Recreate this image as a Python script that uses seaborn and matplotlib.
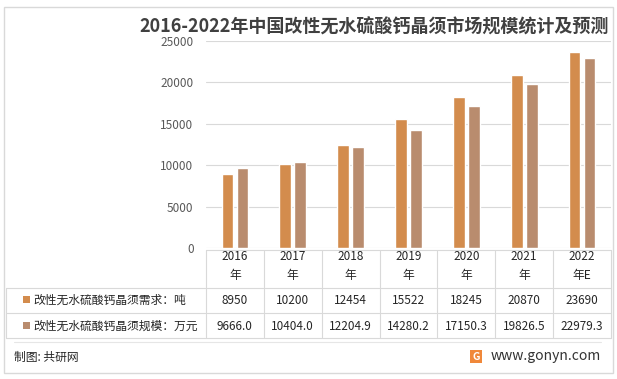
import pandas as pd
import matplotlib.pyplot as plt
import seaborn as sns
from matplotlib.patches import Rectangle
from matplotlib.transforms import blended_transform_factory

# data
years = ["2016", "2017", "2018", "2019", "2020", "2021", "2022"]
year_suffix = ["年", "年", "年", "年", "年", "年", "年E"]
demand = [8950, 10200, 12454, 15522, 18245, 20870, 23690]
scale = [9666.0, 10404.0, 12204.9, 14280.2, 17150.3, 19826.5, 22979.3]
series = ["改性无水硫酸钙晶须需求：吨", "改性无水硫酸钙晶须规模：万元"]
colors = ["#D38C4D", "#B98C6E"]
title = "2016-2022年中国改性无水硫酸钙晶须市场规模统计及预测"

df = pd.DataFrame({
    "year": years * 2,
    "value": demand + scale,
    "series": [series[0]] * len(years) + [series[1]] * len(years),
})

sns.set_theme(style="white")
plt.rcParams['font.family'] = ['Noto Sans CJK SC', 'DejaVu Sans']

W, H = 617, 379
fig = plt.figure(figsize=(W / 100, H / 100), dpi=100)

# background axes in pixel coords for frame, table lines and footer
bg = fig.add_axes([0, 0, 1, 1])
bg.set_xlim(0, W)
bg.set_ylim(H, 0)
bg.axis('off')

ax = fig.add_axes([206 / W, 1 - 248 / H, 405 / W, (248 - 41) / H])
ax.set_facecolor('none')
sns.barplot(data=df, x="year", y="value", hue="series", palette=colors,
            width=0.52, gap=0.22, saturation=1, legend=False, ax=ax)
ax.set_ylim(0, 25000)
ax.set_yticks(range(0, 25001, 5000))
ax.yaxis.grid(True, color="#D9D9D9", lw=0.8)
ax.set_axisbelow(True)
ax.set_xticks([])
ax.set_xlabel("")
ax.set_ylabel("")
sns.despine(ax=ax, left=True, bottom=True)
ax.tick_params(axis='y', length=0, pad=9, labelsize=8.5, labelcolor="#595959")

# frame
bg.add_patch(Rectangle((4, 7), 609, 366, fill=False, edgecolor="#D9D9D9", lw=1))

# title
bg.text(609, 27, title, ha='right', va='center', fontsize=13,
        fontweight='bold', color="#404040")

# data table under the bars
tr = blended_transform_factory(ax.transData, bg.transData)
line_c = "#D9D9D9"
n = len(years)
bg.plot([-0.5, n - 0.5], [250, 250], color=line_c, lw=0.8, transform=tr)
for yy in [288, 313, 338]:
    bg.plot([6, 611], [yy, yy], color=line_c, lw=0.8)
bg.plot([6, 6], [288, 338], color=line_c, lw=0.8)
for i in range(n + 1):
    bg.plot([i - 0.5, i - 0.5], [250, 338], color=line_c, lw=0.8, transform=tr)

txt_c = "#262626"
for i in range(n):
    bg.text(i, 257, years[i], transform=tr, ha='center', va='center',
            fontsize=8.5, color=txt_c)
    bg.text(i, 276, year_suffix[i], transform=tr, ha='center', va='center',
            fontsize=8.5, color=txt_c)
    bg.text(i, 300, f"{demand[i]}", transform=tr, ha='center', va='center',
            fontsize=8.5, color=txt_c)
    bg.text(i, 326, f"{scale[i]:.1f}", transform=tr, ha='center', va='center',
            fontsize=8.5, color=txt_c)

for k, yy in enumerate([300, 326]):
    bg.add_patch(Rectangle((23, yy - 4), 7, 7, color=colors[k], lw=0))
    bg.text(33, yy, series[k], ha='left', va='center', fontsize=8.5, color=txt_c)

# footer
bg.plot([14, 601], [342, 342], color="#E6E6E6", lw=0.8)
bg.text(14, 357, "制图: 共研网", ha='left', va='center', fontsize=8.5, color=txt_c)
bg.add_patch(Rectangle((470, 350), 12, 13, color="#F0883A", lw=0))
bg.text(476, 356.5, "G", ha='center', va='center', fontsize=7.5,
        fontweight='bold', color="white")
bg.text(601, 356, "www.gonyn.com", ha='right', va='center', fontsize=10,
        color="#333333")

fig.savefig("out.png", dpi=100)
